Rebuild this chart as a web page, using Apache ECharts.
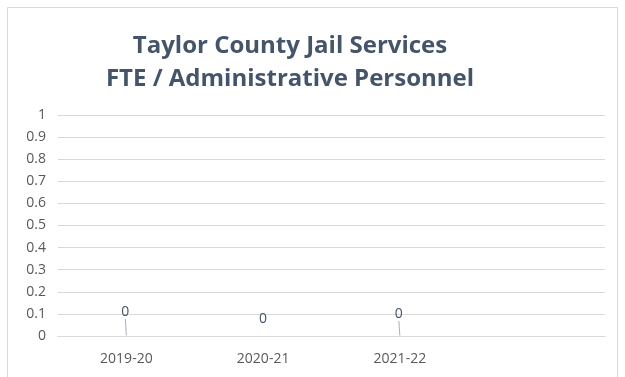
<!DOCTYPE html>
<html>
<head>
<meta charset="utf-8">
<script src="https://cdn.jsdelivr.net/npm/echarts@6/dist/echarts.min.js"></script>
<style>
html,body{margin:0;padding:0;background:#fff;}
#chart{width:625px;height:377px;}
</style>
</head>
<body>
<div id="chart"></div>
<script>
var titleLines = ['Taylor County Jail Services', 'FTE / Administrative Personnel'];
var categories = ['2019-20', '2020-21', '2021-22', ''];
var fteValues = [0, 0, 0, null];
var yTicks = [0, 0.1, 0.2, 0.3, 0.4, 0.5, 0.6, 0.7, 0.8, 0.9, 1];

// label offsets and leader-line visibility (styling only)
var labelShift = [[-1, -24, true], [0, -17, false], [-1, -22, true]];

var chart = echarts.init(document.getElementById('chart'), null, {renderer: 'canvas'});
var font = '"Open Sans", "Liberation Sans", sans-serif';

chart.setOption({
  backgroundColor: '#ffffff',
  animation: false,
  graphic: [{
    type: 'rect',
    shape: {x: 7.5, y: 7.5, width: 610, height: 400},
    style: {fill: 'none', stroke: '#D9D9D9', lineWidth: 1},
    silent: true, z: -1
  }],
  title: {
    text: titleLines.join('\n'),
    left: 285,
    textAlign: 'center',
    top: 25,
    textStyle: {
      fontFamily: font,
      fontSize: 24,
      fontWeight: 'bold',
      color: '#44546A',
      lineHeight: 33
    }
  },
  grid: {left: 58, right: 20, top: 115, bottom: 41, containLabel: false},
  xAxis: {
    type: 'category',
    data: categories,
    boundaryGap: true,
    axisLine: {show: true, lineStyle: {color: '#D9D9D9', width: 1}},
    axisTick: {show: false},
    axisLabel: {color: '#595959', fontFamily: font, fontSize: 14, margin: 16}
  },
  yAxis: {
    type: 'value',
    min: yTicks[0],
    max: yTicks[yTicks.length - 1],
    interval: 0.1,
    axisLine: {show: false},
    axisTick: {show: false},
    splitLine: {lineStyle: {color: '#D9D9D9', width: 1}},
    axisLabel: {
      color: '#595959', fontFamily: font, fontSize: 14, margin: 12,
      formatter: function (v) { return String(Math.round(v * 10) / 10); }
    }
  },
  series: [{
    type: 'line',
    data: fteValues.map(function (v, i) {
      var s = labelShift[i];
      return {value: v, labelLine: {show: s ? s[2] : false}};
    }),
    showSymbol: true,
    symbol: 'circle',
    symbolSize: 1,
    itemStyle: {color: 'rgba(0,0,0,0)', borderWidth: 0},
    lineStyle: {width: 0, color: 'rgba(0,0,0,0)'},
    label: {
      show: true,
      position: 'inside',
      color: '#44546A',
      fontFamily: font,
      fontSize: 14
    },
    labelLine: {
      show: true,
      lineStyle: {color: '#A6B0BF', width: 1}
    },
    labelLayout: function (p) {
      var s = labelShift[p.dataIndex] || [0, 0, false];
      return {dx: s[0], dy: s[1]};
    }
  }]
});
</script>
</body>
</html>
